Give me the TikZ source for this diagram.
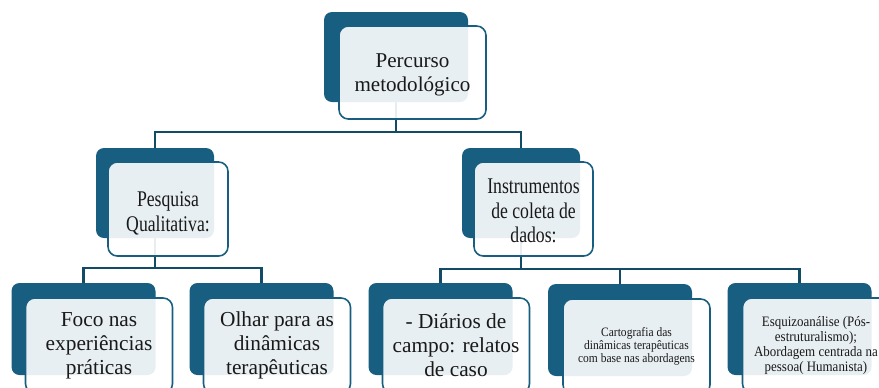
\documentclass[tikz,border=0pt]{standalone}
\usepackage{fontspec}
\setmainfont{Liberation Serif}
\newfontfamily\narrowserif[FakeStretch=0.79]{Liberation Serif}
\newfontfamily\slimserif[FakeStretch=0.9]{Liberation Serif}
\definecolor{petrol}{RGB}{24,94,128}
\newcommand{\lift}[1]{\rule{0pt}{#1}}
\begin{document}
\begin{tikzpicture}[x=0.75pt, y=-0.75pt,
    back/.style = {draw=none, fill=petrol, rounded corners=6pt, inner sep=0pt},
    front/.style = {draw=petrol, line width=1.2pt, fill=white, fill opacity=0.9, text opacity=1, rounded corners=7pt, align=center, inner sep=0pt, text=black!90},
    link/.style = {draw=petrol!80!black, line width=1.6pt}]
\clip (0,0) rectangle (879,387);
% back boxes
\node[back, minimum width=108pt, minimum height=67.5pt] (1s) at (396,57) {};
\node[back, minimum width=88.5pt, minimum height=67.5pt] (2s) at (155,193) {};
\node[back, minimum width=88.5pt, minimum height=67.5pt] (3s) at (521,193) {};
\node[back, minimum width=108pt, minimum height=69pt] (4s) at (83.5,329) {};
\node[back, minimum width=108pt, minimum height=69pt] (5s) at (261.5,329) {};
\node[back, minimum width=108pt, minimum height=69pt] (6s) at (440.5,329) {};
\node[back, minimum width=108pt, minimum height=69pt] (7s) at (620,330) {};
\node[back, minimum width=108pt, minimum height=69pt] (8s) at (799.5,329) {};

% connectors
\draw[link] (1s.south) -- ++(0,30) -| (2s.north);
\draw[link] (1s.south) -- ++(0,30) -| (3s.north);
\draw[link] (2s.south) -- ++(0,30) -| (4s.north);
\draw[link] (2s.south) -- ++(0,30) -| (5s.north);
\draw[link] (3s.south) -- ++(0,31) -| (6s.north);
\draw[link] (3s.south) -- ++(0,31) -| (7s.north);
\draw[link] (3s.south) -- ++(0,31) -| (8s.north);

% front boxes
\node[front, minimum width=110.25pt, minimum height=69.75pt, font=\fontsize{15.8}{18}\selectfont] (1) at (412.5,72.5) {\lift{14pt}Percurso\\metodológico};
\node[front, minimum width=90pt, minimum height=70.5pt, font=\narrowserif\fontsize{16.8}{18.7}\selectfont] (2) at (168,209) {\lift{18pt}Pesquisa\\Qualitativa:};
\node[front, minimum width=89.25pt, minimum height=70.5pt, font=\narrowserif\fontsize{16.8}{18.5}\selectfont] (3) at (533.5,209) {\lift{14pt}Instrumentos\\de coleta de\\dados:};
\node[front, minimum width=110.25pt, minimum height=71.25pt, font=\fontsize{16}{18}\selectfont] (4) at (99,345.5) {Foco nas\\experiências\\práticas};
\node[front, minimum width=110.25pt, minimum height=71.25pt, font=\fontsize{16}{18}\selectfont] (5) at (277,345.5) {Olhar para as\\dinâmicas\\terapêuticas};
\node[front, minimum width=110.25pt, minimum height=71.25pt, font=\fontsize{16}{18}\selectfont] (6) at (456,345.5) {- Diários de\\campo: relatos\\de caso};
\node[front, minimum width=110.25pt, minimum height=71.25pt, font=\slimserif\fontsize{9.6}{9.8}\selectfont] (7) at (636.5,346.5) {Cartografia das\\dinâmicas terapêuticas\\com base nas abordagens};
\node[front, minimum width=110.25pt, minimum height=71.25pt, font=\slimserif\fontsize{10.8}{11.2}\selectfont] (8) at (816,345.5) {Esquizoanálise (Pós-\\estruturalismo);\\Abordagem centrada na\\pessoa( Humanista)};
\end{tikzpicture}
\end{document}
